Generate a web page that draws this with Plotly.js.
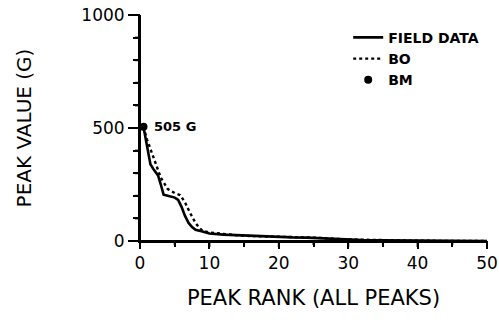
<!DOCTYPE html>
<html>
<head>
<meta charset="utf-8">
<script src="https://cdn.plot.ly/plotly-3.0.1.min.js"></script>
<style>
  html, body { margin: 0; padding: 0; background: #fff; }
  #chart { width: 499px; height: 323px; }
</style>
</head>
<body>
<div id="chart"></div>
<script>
// Ranked peak values (G): measured field data vs. the BO model, plus the BM peak.
const fieldRank = [0.5, 1, 1.5, 2, 2.6, 3.0, 3.4, 4, 5, 5.5, 6, 6.5, 7, 7.5, 8, 9, 10, 12, 14, 16, 18, 20, 22, 24, 26, 28, 30, 32, 35, 40, 45, 50];
const fieldPeak = [505, 430, 340, 315, 290, 250, 205, 200, 192, 182, 150, 110, 80, 62, 50, 42, 33, 28, 25, 22, 20, 18, 16, 15, 12, 9, 6, 4, 3, 1, 0.5, 0];

const boRank = [0.5, 1, 2, 3, 4, 5, 5.8, 6.5, 7.2, 8, 8.5, 9, 10, 12, 14, 16, 20, 25, 30, 35, 40, 50];
const boPeak = [505, 450, 365, 280, 230, 212, 203, 170, 125, 80, 60, 45, 38, 30, 25, 22, 19, 15, 7, 3, 1, 0];

const bmRank = [0.5];
const bmPeak = [505];

// Labelled ticks on each axis (evenly spaced), minor ticks in between.
const xTicks = [0, 10, 20, 30, 40, 50];
const yTicks = [0, 500, 1000];
const xMinorPerMajor = 2;
const yMinorPerMajor = 5;

const FONT = 'DejaVu Sans, sans-serif';

const traces = [
  { x: fieldRank, y: fieldPeak, name: 'FIELD DATA', mode: 'lines',
    line: { color: '#000', width: 2.6 } },
  { x: boRank, y: boPeak, name: 'BO', mode: 'lines',
    line: { color: '#000', width: 2.4, dash: 'dot' } },
  { x: bmRank, y: bmPeak, name: 'BM', mode: 'markers',
    marker: { color: '#000', size: 8, symbol: 'circle' } }
];

// Axis frame: the two axis lines plus major/minor tick marks, placed in
// paper fractions derived from the tick arrays.
const xMin = xTicks[0], xMax = xTicks[xTicks.length - 1];
const yMin = yTicks[0], yMax = yTicks[yTicks.length - 1];
const xStep = (xTicks[1] - xTicks[0]) / xMinorPerMajor;
const yStep = (yTicks[1] - yTicks[0]) / yMinorPerMajor;
const frame = [
  { type: 'line', xref: 'paper', yref: 'paper', x0: 0, x1: 1, y0: 0, y1: 0, line: { color: '#000', width: 2 } },
  { type: 'line', xref: 'paper', yref: 'paper', x0: 0, x1: 0, y0: 0, y1: 1, line: { color: '#000', width: 2 } }
];
for (let v = xMin; v <= xMax + 1e-9; v += xStep) {
  const major = xTicks.includes(v);
  frame.push({ type: 'line', xref: 'paper', yref: 'paper', ysizemode: 'pixel', yanchor: 0,
    x0: (v - xMin) / (xMax - xMin), x1: (v - xMin) / (xMax - xMin),
    y0: major ? -6 : -4, y1: 0, line: { color: '#000', width: 2 } });
}
for (let v = yMin; v <= yMax + 1e-9; v += yStep) {
  const major = yTicks.includes(v);
  frame.push({ type: 'line', xref: 'paper', yref: 'paper', xsizemode: 'pixel', xanchor: 0,
    y0: (v - yMin) / (yMax - yMin), y1: (v - yMin) / (yMax - yMin),
    x0: major ? -10 : -5, x1: 0, line: { color: '#000', width: 2 } });
}

const layout = {
  width: 499, height: 323,
  margin: { l: 140, r: 12, t: 15, b: 82, autoexpand: false },
  paper_bgcolor: '#fff', plot_bgcolor: '#fff',
  font: { family: FONT, color: '#000', size: 17 },
  showlegend: true,
  legend: {
    x: 0.6, y: 0.97, xanchor: 'left', yanchor: 'top',
    bgcolor: 'rgba(0,0,0,0)', borderwidth: 0,
    font: { family: FONT, size: 14, weight: 'bold', color: '#000' },
    tracegroupgap: 0, itemwidth: 30
  },
  xaxis: {
    range: [xMin, xMax],
    tickmode: 'linear', tick0: xMin, dtick: xTicks[1] - xTicks[0],
    showgrid: false, zeroline: false,
    showline: true, linecolor: '#000', linewidth: 2,
    ticks: 'outside', ticklen: 6, tickwidth: 2, tickcolor: '#000',
    minor: { dtick: xStep, ticks: 'outside', ticklen: 4 },
    tickfont: { family: FONT, size: 17 },
    title: { text: 'PEAK RANK (ALL PEAKS)', font: { family: FONT, size: 21 }, standoff: 18 }
  },
  yaxis: {
    range: [yMin, yMax],
    tickmode: 'linear', tick0: yMin, dtick: yTicks[1] - yTicks[0],
    showgrid: false, zeroline: false,
    showline: true, linecolor: '#000', linewidth: 2,
    ticks: 'outside', ticklen: 10, tickwidth: 2, tickcolor: '#000',
    minor: { dtick: yStep, ticks: 'outside', ticklen: 5 },
    tickfont: { family: FONT, size: 17 },
    title: { text: 'PEAK VALUE (G)', font: { family: FONT, size: 20 }, standoff: 44 }
  },
  shapes: frame,
  annotations: [
    { x: bmRank[0], y: bmPeak[0], xref: 'x', yref: 'y',
      text: bmPeak[0] + ' G', showarrow: false,
      xanchor: 'left', yanchor: 'middle', xshift: 9,
      font: { family: FONT, size: 13, weight: 'bold', color: '#000' } }
  ]
};

Plotly.newPlot('chart', traces, layout, { displayModeBar: false, staticPlot: true });
</script>
</body>
</html>
